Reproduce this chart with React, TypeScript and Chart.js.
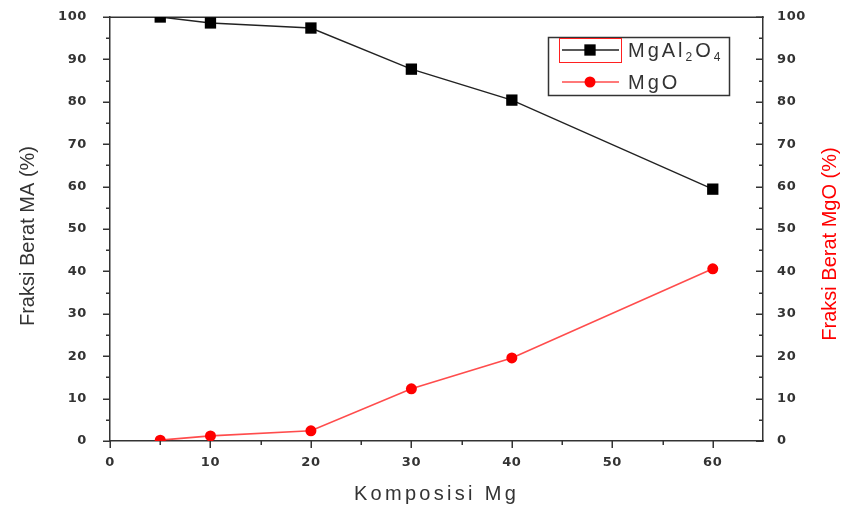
import React, { useEffect, useRef } from 'react';
import { Chart, registerables } from 'chart.js';

Chart.register(...registerables);

// ---- data ----
const composition = [5, 10, 20, 30, 40, 60];
const mgAl2O4Fraction = [100, 98.6, 97.4, 87.7, 80.4, 59.4];
const mgOFraction = [0.2, 1.2, 2.4, 12.3, 19.6, 40.6];
const xRange = [0, 65];
const yRange = [0, 100];
const xTitle = 'Komposisi Mg';
const yLeftTitle = 'Fraksi Berat MA (%)';
const yRightTitle = 'Fraksi Berat MgO (%)';
const legendMgAl2O4 = [
  { t: 'MgAl', sub: false },
  { t: '2', sub: true },
  { t: 'O', sub: false },
  { t: '4', sub: true },
];
const legendMgO = [{ t: 'MgO', sub: false }];

const AXIS = '#333333';
const TITLE_FONT = '"Liberation Sans", Arial, sans-serif';
const TICK_FONT = '"DejaVu Sans", sans-serif';

const labelEvery10 = (v: any) => (Number(v) % 10 === 0 ? String(v) : '');

const decorPlugin = {
  id: 'decor',
  beforeDraw(chart: any) {
    chart.ctx.letterSpacing = '0.6px';
  },
  beforeDatasetsDraw(chart: any) {
    const ctx = chart.ctx;
    const { left, right, top, bottom } = chart.chartArea;
    ctx.save();
    ctx.letterSpacing = '0px';
    ctx.strokeStyle = AXIS;
    ctx.lineWidth = 1.5;
    // top frame line
    ctx.beginPath();
    ctx.moveTo(left - 0.75, Math.round(top) + 0.25);
    ctx.lineTo(right + 0.75, Math.round(top) + 0.25);
    ctx.stroke();
    const xs = chart.scales.x;
    xs.ticks.forEach((t: any) => {
      if (t.value >= xs.max) return;
      const px = Math.round(xs.getPixelForValue(t.value)) + 0.25;
      const len = t.value % 10 === 0 ? 7 : 4;
      ctx.beginPath();
      ctx.moveTo(px, bottom);
      ctx.lineTo(px, bottom + len);
      ctx.stroke();
    });
    const yl = chart.scales.y;
    yl.ticks.forEach((t: any) => {
      const py = Math.round(yl.getPixelForValue(t.value)) + 0.25;
      const len = t.value % 10 === 0 ? 7 : 4;
      ctx.beginPath();
      ctx.moveTo(left, py);
      ctx.lineTo(left - len, py);
      ctx.stroke();
    });
    const yr = chart.scales.y2;
    yr.ticks.forEach((t: any) => {
      const py = Math.round(yr.getPixelForValue(t.value)) + 0.25;
      const len = t.value % 10 === 0 ? 7 : 4;
      ctx.beginPath();
      ctx.moveTo(right, py);
      ctx.lineTo(right - len, py);
      ctx.stroke();
    });
    ctx.restore();
  },
  afterDraw(chart: any) {
    const ctx = chart.ctx;
    const { left, right } = chart.chartArea;
    ctx.save();
    // axis titles
    ctx.font = `20px ${TITLE_FONT}`;
    ctx.textAlign = 'center';
    ctx.textBaseline = 'middle';
    ctx.fillStyle = AXIS;
    ctx.letterSpacing = '3.3px';
    ctx.fillText(xTitle, (left + right) / 2, 494);
    ctx.letterSpacing = '0px';
    ctx.save();
    ctx.translate(28, 236);
    ctx.rotate(-Math.PI / 2);
    ctx.fillText(yLeftTitle, 0, 0);
    ctx.restore();
    ctx.save();
    ctx.translate(830, 244);
    ctx.rotate(-Math.PI / 2);
    ctx.fillStyle = '#ff0000';
    ctx.fillText(yRightTitle, 0, 0);
    ctx.restore();

    // legend
    const ds = chart.data.datasets;
    ctx.lineWidth = 1.5;
    ctx.strokeStyle = AXIS;
    ctx.strokeRect(548.5, 37.5, 181, 58);
    // selection box around first sample
    ctx.lineWidth = 1;
    ctx.strokeStyle = '#ff2020';
    ctx.strokeRect(559.5, 38.5, 62, 24);
    const rows = [
      { d: ds[0], y: 50, parts: legendMgAl2O4 },
      { d: ds[1], y: 82, parts: legendMgO },
    ];
    rows.forEach((r) => {
      ctx.strokeStyle = r.d.borderColor;
      ctx.lineWidth = r.d.borderWidth;
      ctx.beginPath();
      ctx.moveTo(562, r.y);
      ctx.lineTo(619, r.y);
      ctx.stroke();
      ctx.fillStyle = r.d.pointBackgroundColor;
      if (r.d.pointStyle === 'rect') {
        const s = r.d.pointRadius * Math.SQRT2;
        ctx.fillRect(590 - s / 2, r.y - s / 2, s, s);
      } else {
        ctx.beginPath();
        ctx.arc(590, r.y, r.d.pointRadius, 0, Math.PI * 2);
        ctx.fill();
      }
      let x = 628;
      ctx.fillStyle = AXIS;
      ctx.textAlign = 'left';
      ctx.textBaseline = 'alphabetic';
      ctx.letterSpacing = '3px';
      r.parts.forEach((p) => {
        ctx.font = p.sub ? `12px ${TITLE_FONT}` : `20px ${TITLE_FONT}`;
        ctx.fillText(p.t, x, r.y + 7 + (p.sub ? 4 : 0));
        x += ctx.measureText(p.t).width;
      });
    });
    ctx.restore();
    ctx.letterSpacing = '0px';
  },
};

export default function App() {
  const ref = useRef<HTMLCanvasElement>(null);
  useEffect(() => {
    if (!ref.current) return;
    const tickFont = { family: TICK_FONT, size: 13, weight: 'bold' as const };
    const chart = new Chart(ref.current, {
      type: 'line',
      data: {
        datasets: [
          {
            label: 'MgAl2O4',
            data: composition.map((c, i) => ({ x: c, y: mgAl2O4Fraction[i] })),
            borderColor: '#222222',
            borderWidth: 1.4,
            pointStyle: 'rect',
            pointRadius: 8,
            pointBackgroundColor: '#000000',
            pointBorderWidth: 0,
            pointBorderColor: '#000000',
            yAxisID: 'y',
            tension: 0,
            clip: 0,
          },
          {
            label: 'MgO',
            data: composition.map((c, i) => ({ x: c, y: mgOFraction[i] })),
            borderColor: 'rgba(255,0,0,0.7)',
            borderWidth: 1.6,
            pointStyle: 'circle',
            pointRadius: 5.5,
            pointBackgroundColor: '#ff0000',
            pointBorderWidth: 0,
            pointBorderColor: '#ff0000',
            yAxisID: 'y2',
            tension: 0,
            clip: 0,
          },
        ],
      },
      options: {
        responsive: false,
        animation: false,
        events: [],
        layout: { padding: { top: 17, left: 0, right: 0, bottom: 0 } },
        plugins: { legend: { display: false }, tooltip: { enabled: false } },
        scales: {
          x: {
            type: 'linear',
            position: 'bottom',
            min: xRange[0],
            max: xRange[1],
            grid: { display: false, drawTicks: false, tickLength: 0 },
            border: { display: true, color: AXIS, width: 1.5 },
            ticks: {
              stepSize: 5,
              autoSkip: false,
              maxRotation: 0,
              padding: 14,
              color: AXIS,
              font: tickFont,
              callback: labelEvery10,
            },
            afterFit: (s: any) => {
              s.height = 67;
              s.paddingLeft = 0;
              s.paddingRight = 0;
            },
          },
          y: {
            type: 'linear',
            position: 'left',
            min: yRange[0],
            max: yRange[1],
            grid: { display: false, drawTicks: false, tickLength: 0 },
            border: { display: true, color: AXIS, width: 1.5 },
            ticks: {
              stepSize: 5,
              autoSkip: false,
              padding: 23,
              color: AXIS,
              font: tickFont,
              callback: labelEvery10,
            },
            afterFit: (s: any) => {
              s.width = 110;
              s.paddingTop = 0;
              s.paddingBottom = 0;
            },
          },
          y2: {
            type: 'linear',
            position: 'right',
            min: yRange[0],
            max: yRange[1],
            grid: { display: false, drawTicks: false, tickLength: 0 },
            border: { display: true, color: AXIS, width: 1.5 },
            ticks: {
              stepSize: 5,
              autoSkip: false,
              padding: 14,
              color: AXIS,
              font: tickFont,
              callback: labelEvery10,
            },
            afterFit: (s: any) => {
              s.width = 87;
              s.paddingTop = 0;
              s.paddingBottom = 0;
            },
          },
        },
      },
      plugins: [decorPlugin],
    });
    return () => chart.destroy();
  }, []);
  return (
    <div style={{ position: 'absolute', left: 0, top: 0, width: 850, height: 508, background: '#fff' }}>
      <canvas ref={ref} width={850} height={508} style={{ display: 'block' }} />
    </div>
  );
}
